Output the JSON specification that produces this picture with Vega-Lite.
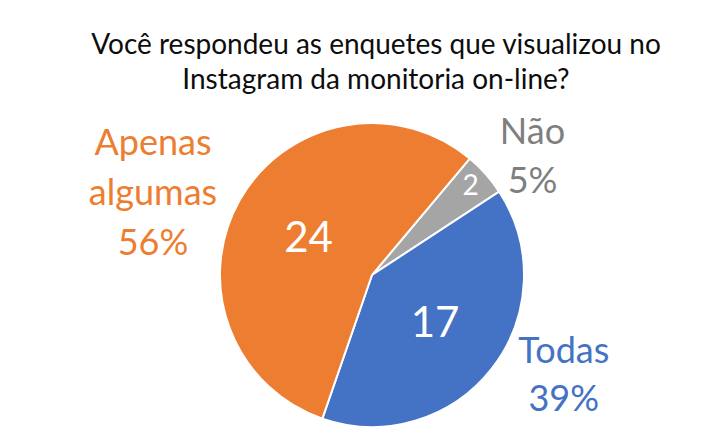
{
  "$schema": "https://vega.github.io/schema/vega-lite/v6.json",
  "width": 712,
  "height": 340,
  "autosize": {"type": "none"},
  "padding": {"left": 16, "top": 105, "right": 0, "bottom": 0},
  "background": "white",
  "config": {"view": {"stroke": null}},
  "title": {
    "text": ["Você respondeu as enquetes que visualizou no", "Instagram da monitoria on-line?"],
    "font": "Lato",
    "fontSize": 28,
    "fontWeight": "normal",
    "color": "#0d0d0d",
    "lineHeight": 35,
    "offset": -17,
    "anchor": "middle",
    "frame": "group",
    "dx": 4
  },
  "data": {
    "values": [
      {"idx": 1, "resposta": "Não", "n": 2, "rotulo": "Não\n5%"},
      {"idx": 2, "resposta": "Todas", "n": 17, "rotulo": "Todas\n39%"},
      {"idx": 3, "resposta": "Apenas algumas", "n": 24, "rotulo": "Apenas\nalgumas\n56%"}
    ]
  },
  "encoding": {
    "theta": {"field": "n", "type": "quantitative", "stack": true, "scale": {"range": [0.6981, 6.9813]}},
    "order": {"field": "idx", "type": "quantitative"}
  },
  "layer": [
    {
      "mark": {"type": "arc", "radius": 152, "stroke": "white", "strokeWidth": 2},
      "encoding": {
        "color": {
          "field": "resposta",
          "type": "nominal",
          "scale": {"domain": ["Não", "Todas", "Apenas algumas"], "range": ["#A5A5A5", "#4472C4", "#ED7D31"]},
          "legend": null
        }
      }
    },
    {
      "mark": {"type": "text", "radius": 73, "font": "Lato", "fontSize": 42, "color": "white", "align": "center", "baseline": "middle"},
      "encoding": {"text": {"condition": {"test": "datum.resposta === 'Apenas algumas'", "field": "n", "type": "quantitative"}, "value": ""}}
    },
    {
      "mark": {"type": "text", "radius": 80, "font": "Lato", "fontSize": 42, "color": "white", "align": "center", "baseline": "middle"},
      "encoding": {"text": {"condition": {"test": "datum.resposta === 'Todas'", "field": "n", "type": "quantitative"}, "value": ""}}
    },
    {
      "mark": {"type": "text", "radius": 132, "font": "Lato", "fontSize": 28, "color": "white", "align": "center", "baseline": "middle"},
      "encoding": {"text": {"condition": {"test": "datum.resposta === 'Não'", "field": "n", "type": "quantitative"}, "value": ""}}
    },
    {
      "mark": {"type": "text", "radius": 200, "dx": 11, "dy": -9, "font": "Lato", "fontSize": 36, "lineHeight": 49, "lineBreak": "\n", "color": "#7F7F7F", "align": "center", "baseline": "middle"},
      "encoding": {"text": {"condition": {"test": "datum.resposta === 'Não'", "field": "rotulo", "type": "nominal"}, "value": ""}}
    },
    {
      "mark": {"type": "text", "radius": 200, "dx": 34, "dy": -46, "font": "Lato", "fontSize": 36, "lineHeight": 48, "lineBreak": "\n", "color": "#4472C4", "align": "center", "baseline": "middle"},
      "encoding": {"text": {"condition": {"test": "datum.resposta === 'Todas'", "field": "rotulo", "type": "nominal"}, "value": ""}}
    },
    {
      "mark": {"type": "text", "radius": 200, "dx": -45, "dy": -32, "font": "Lato", "fontSize": 36, "lineHeight": 50, "lineBreak": "\n", "color": "#ED7D31", "align": "center", "baseline": "middle"},
      "encoding": {"text": {"condition": {"test": "datum.resposta === 'Apenas algumas'", "field": "rotulo", "type": "nominal"}, "value": ""}}
    }
  ]
}
